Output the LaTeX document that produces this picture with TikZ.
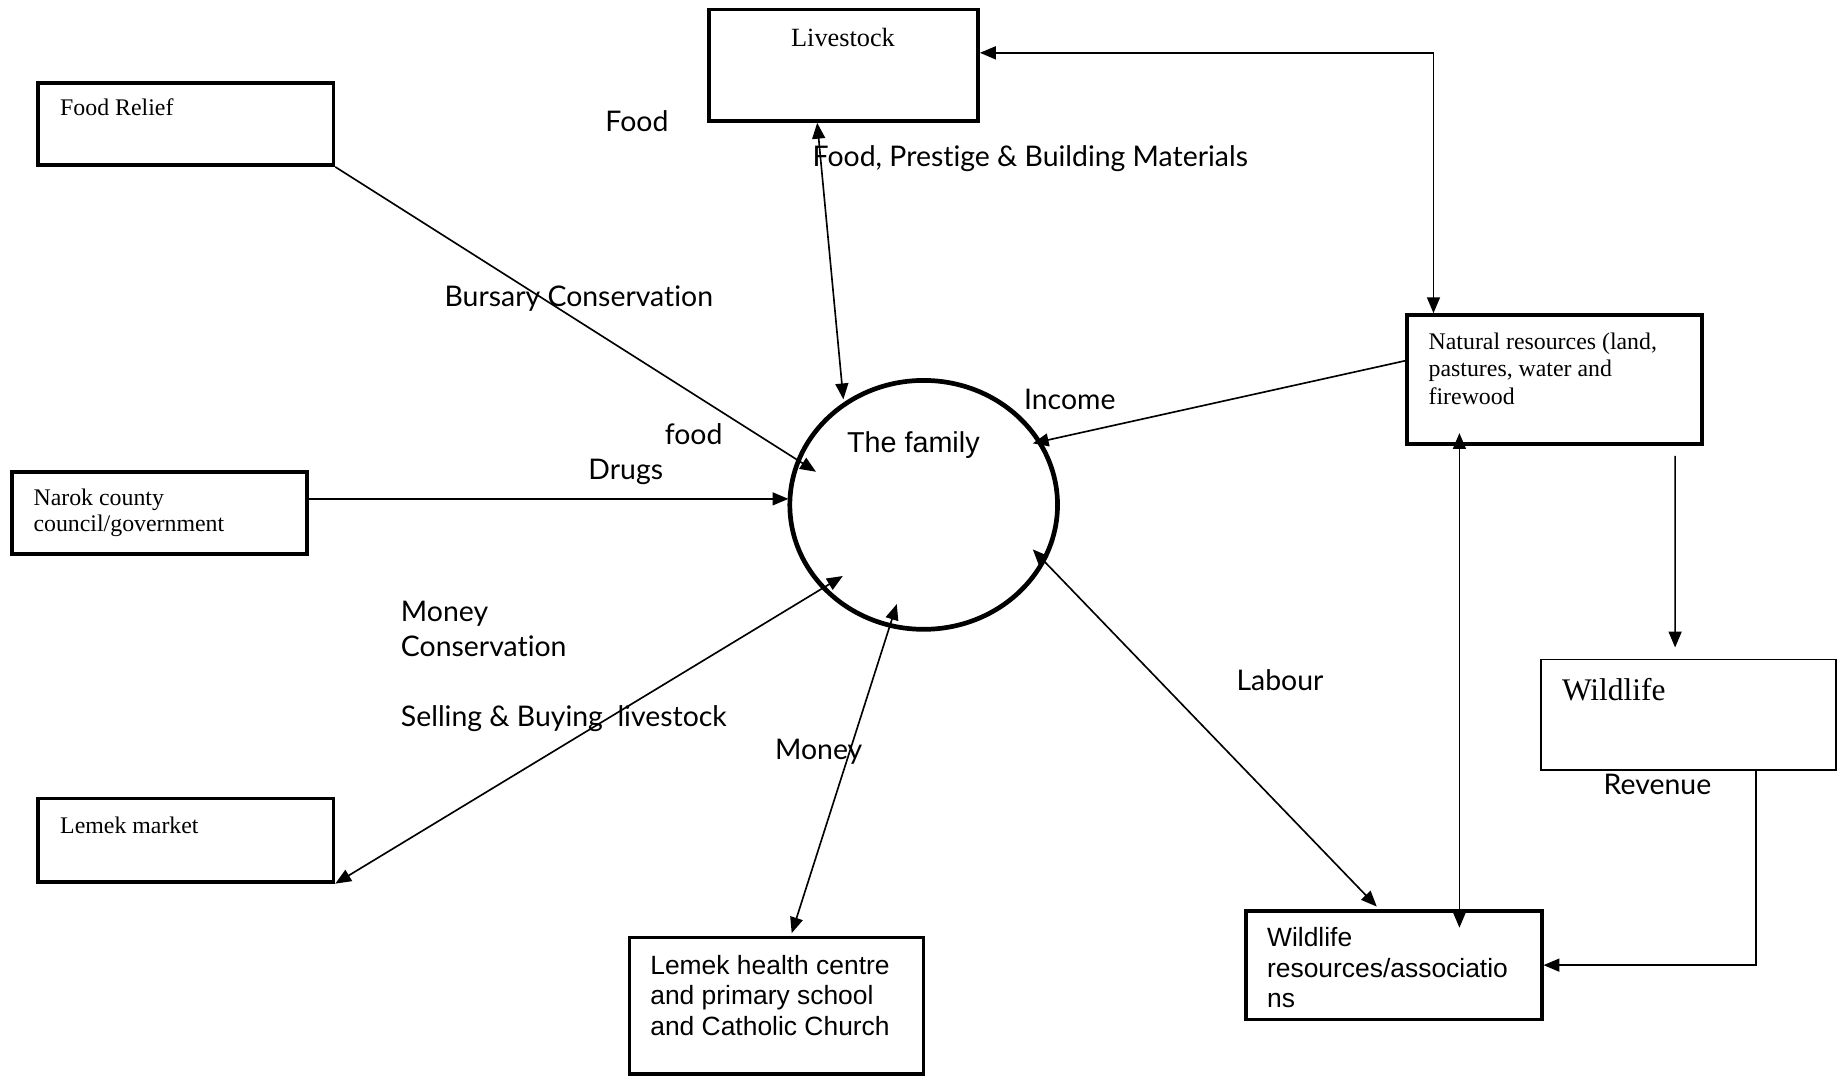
\documentclass[tikz,border=0pt]{standalone}
\usepackage{fontspec}
\setmainfont{Liberation Serif}
\newfontfamily\arialfont{Liberation Sans}
\newfontfamily\labelfont[Ligatures={NoCommon}]{Lato}
\usetikzlibrary{arrows.meta,calc,shapes.geometric}
\begin{document}
\begin{tikzpicture}[x=1pt,y=-1pt,
  >={Triangle[length=13.5pt,width=11pt]},
  box/.style={draw, line width=3.2pt, inner sep=0pt, rectangle},
  thinbox/.style={draw, line width=1.5pt, inner sep=0pt, rectangle},
  link/.style={line width=1.4pt},
  txt/.style={inner sep=0pt, anchor=base west, align=left},
  serif/.style={txt, font=\fontsize{20.3}{23.3}\selectfont},
  sans/.style={txt, font=\arialfont\fontsize{22.5}{26}\selectfont},
  lbl/.style={txt, font=\labelfont\fontsize{24.2}{28}\selectfont}]
\useasboundingbox (0,0) rectangle (1568,916);

% the household at the centre
\node[ellipse, draw, line width=4pt, minimum width=228pt, minimum height=212pt, inner sep=0pt] (family) at (786.7,430) {};
\node[txt, font=\arialfont\fontsize{24.5}{28}\selectfont] (familytext) at (721.2,385.6) {The family};

% boxes
\node[box, minimum width=229pt, minimum height=95pt] (livestock) at (718.5,55.5) {};
\node[txt, anchor=base, font=\fontsize{22.4}{26}\selectfont] (livestocktext) at (718,39.5) {Livestock};

\node[box, minimum width=251.3pt, minimum height=70.1pt] (foodrelief) at (158.3,105.5) {};
\node[serif] (foodrelieftext) at (51.1,98.5) {Food Relief};

\node[box, minimum width=251.3pt, minimum height=70.1pt] (narok) at (135.6,436.9) {};
\node[serif] (naroktext1) at (28.4,430.2) {Narok county};
\node[serif] (naroktext2) at (28.4,452.9) {council/government};

\node[box, minimum width=251.3pt, minimum height=71pt] (market) at (158.3,715.5) {};
\node[serif] (markettext) at (51.1,709.8) {Lemek market};

\node[box, minimum width=250.5pt, minimum height=116.6pt] (health) at (661.3,856.7) {};
\node[sans] (healthtext1) at (553.7,829.6) {Lemek health centre};
\node[sans] (healthtext2) at (553.7,855.8) {and primary school};
\node[sans] (healthtext3) at (553.7,881.8) {and Catholic Church};

\node[box, minimum width=252pt, minimum height=92.5pt] (wres) at (1187,822) {};
\node[sans] (wrestext1) at (1079,806.4) {Wildlife};
\node[sans] (wrestext2) at (1079,832.4) {resources/associatio};
\node[sans] (wrestext3) at (1079,858.4) {ns};

\node[box, minimum width=251.3pt, minimum height=109.9pt] (natres) at (1323.9,323.3) {};
\node[serif] (natrestext1) at (1216.6,297.5) {Natural resources (land,};
\node[serif] (natrestext2) at (1216.6,320.8) {pastures, water and};
\node[serif] (natrestext3) at (1216.6,344.1) {firewood};

\node[thinbox, minimum width=251.6pt, minimum height=94.3pt] (wildlife) at (1438.1,608.8) {};
\node[txt, font=\fontsize{26.8}{30}\selectfont] (wildlifetext) at (1330.2,596.3) {Wildlife};

% connectors
\draw[link,<->] ($(livestock.south)+(-22.5,0)$) -- ($(family.center)+(-68.4,-89.9)$);
\draw[link,<->] ($(livestock.east)+(0,-10.5)$) -| ($(natres.north)+(-103,0)$);
\draw[link,->] (foodrelief.south east) -- ($(family.center)+(-91.7,-28.2)$);
\draw[link,->] ($(narok.east)+(0,-12)$) -- ($(family.center)+(-115.2,-5.1)$);
\draw[link,<->] (market.south east) -- ($(family.center)+(-68.9,60.6)$);
\draw[link,<->] ($(health.north)+(13,-2)$) -- ($(family.center)+(-22.9,84.5)$);
\draw[link,->] ($(natres.west)+(0,-16)$) -- ($(family.center)+(92.9,-52.4)$);
\draw[link,<->] ($(family.center)+(92.9,37.9)$) -- ($(wres.north)+(-14.4,-2)$);
\draw[link,<->] ($(natres.south)+(-80.9,-11)$) -- ($(wres.north)+(56,16)$);
\draw[link,->] ($(natres.south)+(102.8,8.5)$) -- ($(wildlife.north)+(-11.4,-9.4)$);
\draw[link,->] ($(wildlife.south)+(57.4,0)$) |- (wres.east);

% flow labels
\node[lbl] (lfood) at (515.5,112) {Food};
\node[lbl] (lprestige) at (692,142) {Food, Prestige \& Building Materials};
\node[lbl] (lbursary) at (378.5,261) {Bursary Conservation};
\node[lbl] (lfoodsmall) at (566,379) {food};
\node[lbl] (ldrugs) at (501,408) {Drugs};
\node[lbl] (lincome) at (872,349) {Income};
\node[lbl] (lmoney) at (341.3,529.5) {Money};
\node[lbl] (lconservation) at (341.3,558.8) {Conservation};
\node[lbl] (lselling) at (341.3,618.4) {Selling \& Buying\ \ livestock};
\node[lbl] (lmoneytwo) at (660,646.8) {Money};
\node[lbl] (llabour) at (1053,588) {Labour};
\node[lbl] (lrevenue) at (1365.7,676.3) {Revenue};
\end{tikzpicture}
\end{document}
